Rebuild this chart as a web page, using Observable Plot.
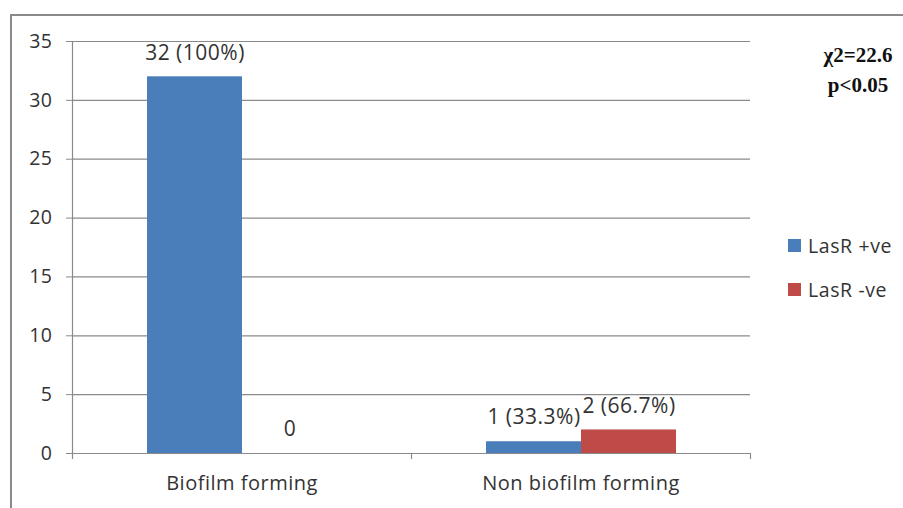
<!DOCTYPE html>
<html>
<head>
<meta charset="utf-8">
<script src="https://cdn.jsdelivr.net/npm/d3@7"></script>
<script src="https://cdn.jsdelivr.net/npm/@observablehq/plot@0.6"></script>
<style>
  html, body { margin: 0; padding: 0; background: #fff; }
  #wrap { position: relative; width: 903px; height: 508px; overflow: hidden; font-family: "Open Sans", sans-serif; color: #333; }
  #border { position: absolute; left: 10px; top: 14px; width: 900px; height: 500px; border-top: 2px solid #8a8a8a; border-left: 2px solid #8a8a8a; }
  #chart { position: absolute; left: 0; top: 0; }
  #chart svg text { letter-spacing: 0.5px; }
  #stats { position: absolute; left: 798px; top: 40px; width: 120px; text-align: center; font-family: "Liberation Serif", "Times New Roman", serif; font-weight: bold; font-size: 21px; line-height: 30px; color: #111; }
  .leg { position: absolute; left: 788px; font-size: 19.5px; letter-spacing: 0.6px; color: #333; display: flex; align-items: center; }
  .sw { width: 13px; height: 13px; margin-right: 7px; }
</style>
</head>
<body>
<div id="wrap">
  <div id="border"></div>
  <div id="chart"></div>
  <div id="stats">χ2=22.6<br>p&lt;0.05</div>
  <div id="legend"></div>
</div>
<script>
const categories = ["Biofilm forming", "Non biofilm forming"];
const series = ["LasR +ve", "LasR -ve"];
const positiveValues = [32, 1];
const negativeValues = [0, 2];
const positiveLabels = ["32 (100%)", "1 (33.3%)"];
const negativeLabels = ["0", "2 (66.7%)"];
const yTicks = [0, 5, 10, 15, 20, 25, 30, 35];
const colors = ["#4a7ebb", "#be4b48"];

const data = categories.flatMap((c, i) => [
  {cat: c, series: series[0], value: positiveValues[i], label: positiveLabels[i]},
  {cat: c, series: series[1], value: negativeValues[i], label: negativeLabels[i]}
]);

const gridColor = "#8a8a8a";
const chart = Plot.plot({
  width: 903,
  height: 508,
  marginLeft: 72,
  marginRight: 153,
  marginTop: 41,
  marginBottom: 55,
  style: {fontFamily: "'Open Sans', sans-serif", color: "#333", background: "transparent"},
  fx: {domain: categories, padding: 0, label: null},
  x: {domain: series, paddingInner: 0, paddingOuter: 0.784, axis: null},
  y: {domain: [0, 35], axis: null},
  color: {domain: series, range: colors},
  marks: [
    Plot.ruleY(yTicks, {stroke: gridColor, strokeWidth: 1.2}),
    Plot.frame({anchor: "left", facetAnchor: "left", insetBottom: -5, stroke: gridColor, strokeWidth: 1.2}),
    Plot.frame({anchor: "right", insetTop: 412, insetBottom: -5, stroke: gridColor, strokeWidth: 1.2}),
    Plot.axisY({ticks: yTicks, tickSize: 6, tickPadding: 14, fontSize: 19.5, stroke: gridColor, fill: "#333", label: null}),
    Plot.axisFx({anchor: "bottom", tickSize: 0, tickPadding: 22, fontSize: 20, fill: "#333", label: null}),
    Plot.barY(data, {fx: "cat", x: "series", y: "value", fill: "series"}),
    Plot.text(data, {fx: "cat", x: "series", y: "value", text: "label", dy: -24, fontSize: 21, fill: "#333"})
  ]
});
document.getElementById("chart").appendChild(chart);

const legend = document.getElementById("legend");
const legendTops = [232, 276];
series.forEach((s, i) => {
  const d = document.createElement("div");
  d.className = "leg";
  d.style.top = legendTops[i] + "px";
  d.innerHTML = `<span class="sw" style="background:${colors[i]}"></span><span>${s}</span>`;
  legend.appendChild(d);
});
</script>
</body>
</html>
